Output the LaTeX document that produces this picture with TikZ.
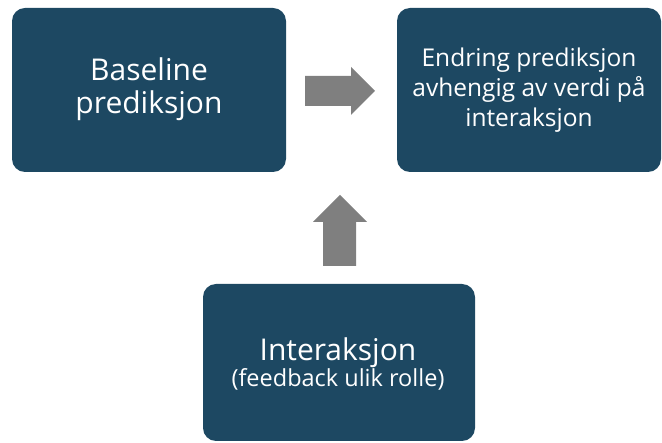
\documentclass[tikz,border=0pt]{standalone}
\usepackage{fontspec}
\setmainfont{Open Sans}
\definecolor{boxblue}{HTML}{1D4862}
\definecolor{arrowgray}{HTML}{7F7F7F}
\begin{document}
\begin{tikzpicture}[x=1pt,y=-1pt,
  card/.style={fill=boxblue, draw=none, rounded corners=13pt},
  cardtext/.style={text=white, align=center, inner sep=0pt},
  blockarrow/.style={fill=arrowgray, draw=none}]
\useasboundingbox (0,0) rectangle (662,443);
% boxes
\fill[card] (12,8) rectangle (286,172);
\fill[card] (397,8) rectangle (661,172);
\fill[card] (203,284) rectangle (475,441);
\node[cardtext, font=\fontsize{30}{33}\selectfont] (base) at (149,89) {Baseline\\prediksjon};
\node[cardtext, font=\fontsize{24.5}{30}\selectfont] (endr) at (529,90) {Endring prediksjon\\avhengig av verdi på\\interaksjon};
\node[cardtext] (inter) at (338,364) {{\fontsize{30}{30}\selectfont Interaksjon}\\[-1pt]{\fontsize{23.5}{26}\selectfont (feedback ulik rolle)}};
% right block arrow
\fill[blockarrow] (305,76) -- (351,76) -- (351,67) -- (375,91) -- (351,115) -- (351,106) -- (305,106) -- cycle;
% up block arrow
\fill[blockarrow] (323,266) -- (323,222) -- (313,222) -- (340,195) -- (367,222) -- (356,222) -- (356,266) -- cycle;
\end{tikzpicture}
\end{document}
